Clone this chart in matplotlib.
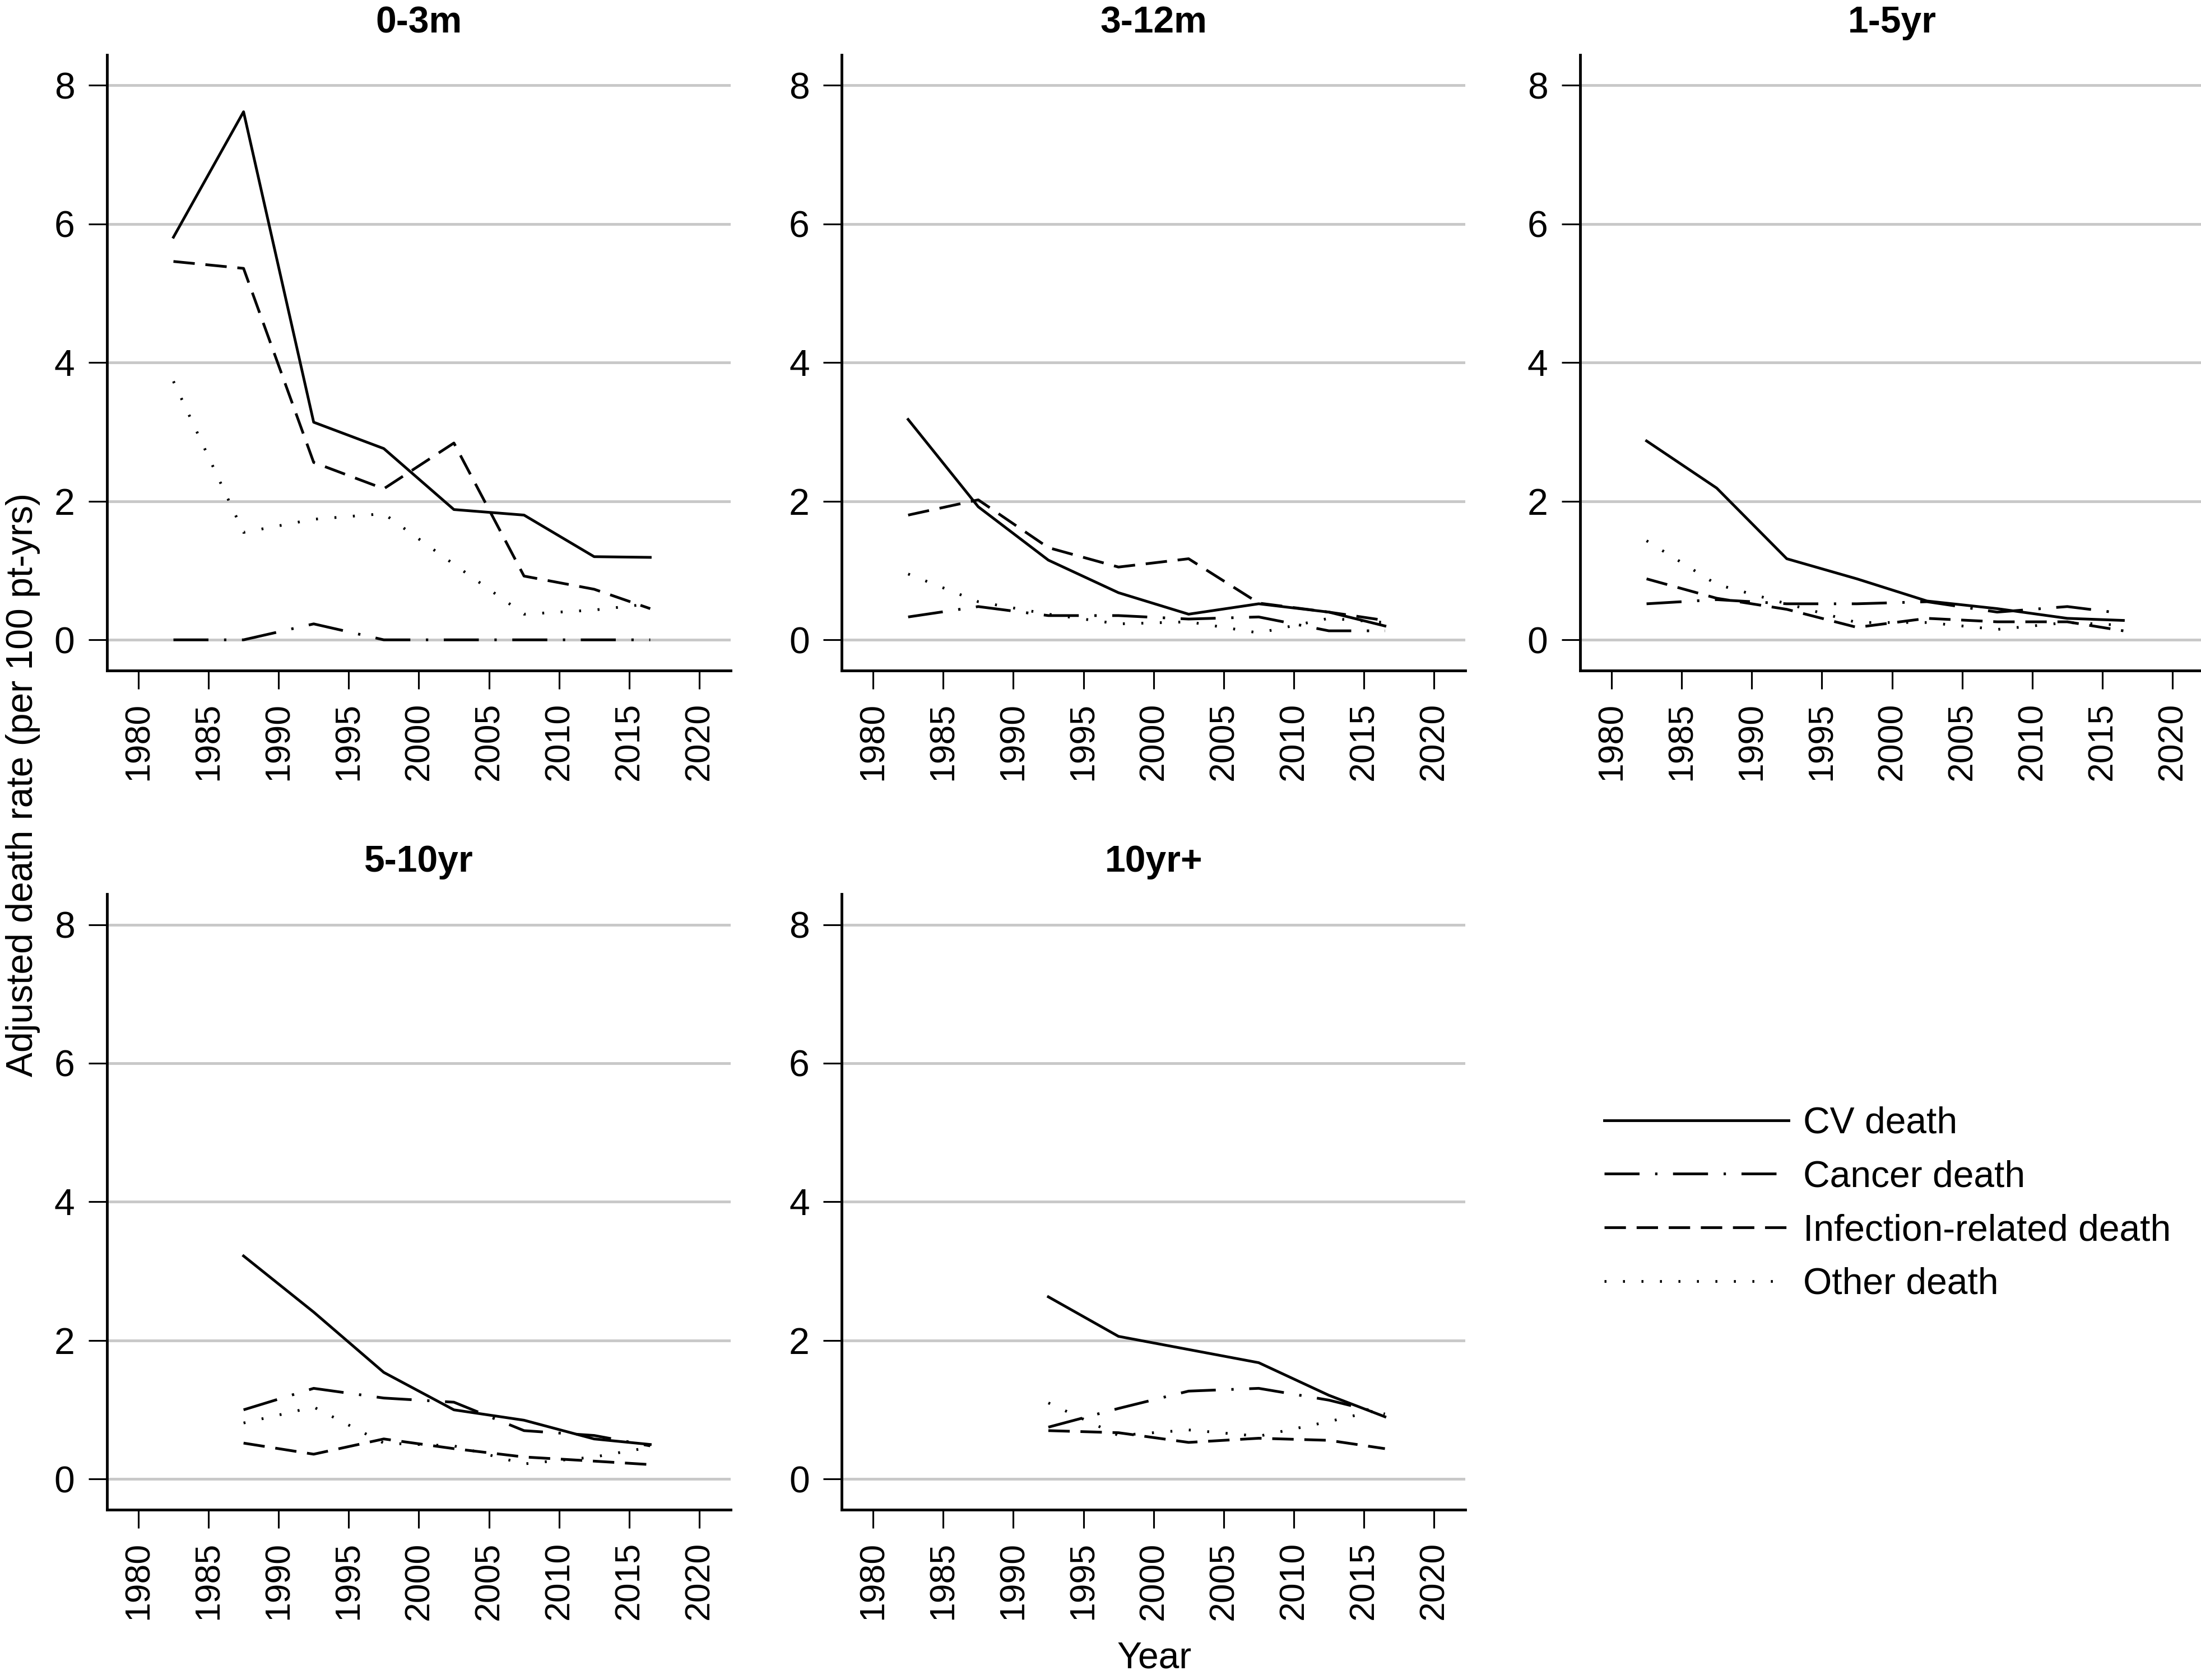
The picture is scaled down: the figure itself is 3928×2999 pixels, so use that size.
import matplotlib
matplotlib.use("Agg")
import matplotlib.pyplot as plt

plt.rcParams["font.family"] = ["Liberation Sans", "DejaVu Sans"]
plt.rcParams["font.size"] = 19
plt.rcParams["lines.scale_dashes"] = False

YEARS = [1982.5, 1987.5, 1992.5, 1997.5, 2002.5, 2007.5, 2012.5, 2016.5]
YEARS_5_10 = YEARS[1:]
YEARS_10P = YEARS[2:]

PANELS = ["0-3m", "3-12m", "1-5yr", "5-10yr", "10yr+"]
SERIES = ["CV death", "Cancer death", "Infection-related death", "Other death"]

# 0-3m
cv_0_3m = [5.81, 7.62, 3.14, 2.76, 1.88, 1.80, 1.20, 1.19]
cancer_0_3m = [0.0, 0.0, 0.23, 0.0, 0.0, 0.0, 0.0, 0.0]
infect_0_3m = [5.46, 5.36, 2.56, 2.18, 2.84, 0.92, 0.73, 0.45]
other_0_3m = [3.73, 1.55, 1.74, 1.82, 1.09, 0.37, 0.43, 0.52]

# 3-12m
cv_3_12m = [3.18, 1.92, 1.15, 0.68, 0.37, 0.52, 0.40, 0.20]
cancer_3_12m = [0.33, 0.48, 0.35, 0.35, 0.30, 0.33, 0.13, 0.13]
infect_3_12m = [1.80, 2.02, 1.33, 1.05, 1.17, 0.53, 0.40, 0.28]
other_3_12m = [0.95, 0.55, 0.37, 0.23, 0.26, 0.10, 0.31, 0.25]

# 1-5yr
cv_1_5yr = [2.87, 2.19, 1.17, 0.88, 0.56, 0.45, 0.31, 0.28]
cancer_1_5yr = [0.52, 0.58, 0.52, 0.52, 0.55, 0.40, 0.48, 0.38]
infect_1_5yr = [0.88, 0.60, 0.44, 0.18, 0.31, 0.26, 0.26, 0.13]
other_1_5yr = [1.43, 0.80, 0.52, 0.25, 0.25, 0.15, 0.25, 0.21]

# 5-10yr
cv_5_10yr = [3.22, 2.41, 1.54, 1.00, 0.85, 0.58, 0.50]
cancer_5_10yr = [1.00, 1.31, 1.17, 1.11, 0.70, 0.63, 0.48]
infect_5_10yr = [0.52, 0.36, 0.58, 0.44, 0.32, 0.26, 0.21]
other_5_10yr = [0.81, 1.04, 0.52, 0.48, 0.22, 0.32, 0.46]

# 10yr+
cv_10yr = [2.63, 2.06, 1.87, 1.68, 1.21, 0.90]
cancer_10yr = [0.75, 1.02, 1.27, 1.31, 1.14, 0.94]
infect_10yr = [0.70, 0.67, 0.53, 0.59, 0.56, 0.44]
other_10yr = [1.10, 0.63, 0.71, 0.62, 0.83, 1.02]

PANEL_DATA = {
    "0-3m": (YEARS, [cv_0_3m, cancer_0_3m, infect_0_3m, other_0_3m]),
    "3-12m": (YEARS, [cv_3_12m, cancer_3_12m, infect_3_12m, other_3_12m]),
    "1-5yr": (YEARS, [cv_1_5yr, cancer_1_5yr, infect_1_5yr, other_1_5yr]),
    "5-10yr": (YEARS_5_10, [cv_5_10yr, cancer_5_10yr, infect_5_10yr, other_5_10yr]),
    "10yr+": (YEARS_10P, [cv_10yr, cancer_10yr, infect_10yr, other_10yr]),
}

STYLES = {
    "CV death": dict(ls="-"),
    "Cancer death": dict(ls=(0, (18, 8, 1.2, 8))),
    "Infection-related death": dict(ls=(0, (11, 5.5))),
    "Other death": dict(ls=(0, (1.0, 8.5))),
}

LEFTS = [0.0486, 0.3824, 0.7179]
WIDTH = 0.2834
ROWS = [(0.601, 0.3663), (0.1014, 0.3664)]


def panel(ax, name):
    years, vals = PANEL_DATA[name]
    for label, y in zip(SERIES, vals):
        ax.plot(years, y, color="black", lw=1.4, label=label, **STYLES[label])
    ax.set_xlim(1977.76, 2022.24)
    ax.set_ylim(-0.44, 8.44)
    ax.set_yticks([0, 2, 4, 6, 8])
    ax.set_xticks(range(1980, 2021, 5))
    ax.set_xticklabels([str(v) for v in range(1980, 2021, 5)], rotation=90)
    ax.grid(axis="y", color="#c8c8c8", lw=1.4)
    ax.set_axisbelow(True)
    for s in ["top", "right"]:
        ax.spines[s].set_visible(False)
    for s in ["left", "bottom"]:
        ax.spines[s].set_linewidth(1.4)
    ax.tick_params(direction="out", length=9.5, width=0.9, pad=7)
    ax.tick_params(axis="x", labelsize=18)
    ax.tick_params(axis="y", labelsize=19)
    ax.set_title(name, fontweight="bold", fontsize=19, pad=11.5)


def main():
    fig = plt.figure(figsize=(3928 / 250, 2999 / 250), dpi=250)
    slots = [(0, 0), (0, 1), (0, 2), (1, 0), (1, 1)]
    axes = []
    for name, (r, c) in zip(PANELS, slots):
        b, h = ROWS[r]
        ax = fig.add_axes([LEFTS[c], b, WIDTH, h])
        panel(ax, name)
        axes.append(ax)

    fig.text(0.0104, 0.533, "Adjusted death rate (per 100 pt-yrs)", rotation=90,
             ha="center", va="center", fontsize=19)
    fig.text(0.5246, 0.013, "Year", ha="center", va="center", fontsize=19)

    handles, labels = axes[0].get_legend_handles_labels()
    fig.legend(handles, labels, loc="upper left", bbox_to_anchor=(0.7289, 0.3415),
               frameon=False, fontsize=19, handlelength=4.98, handletextpad=0.4,
               labelspacing=0.51, borderpad=0, borderaxespad=0)

    fig.savefig("out.png", dpi=250)


if __name__ == "__main__":
    main()
